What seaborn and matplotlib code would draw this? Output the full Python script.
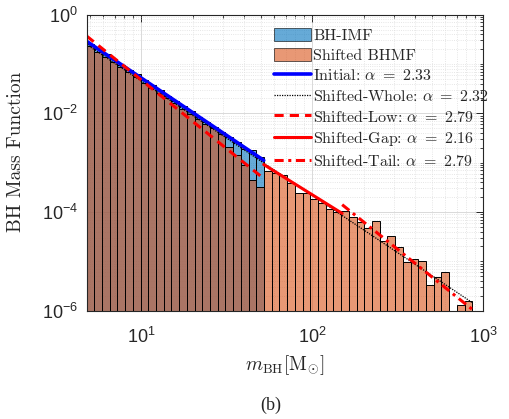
import numpy as np
import pandas as pd
import matplotlib
matplotlib.use("Agg")
import matplotlib.pyplot as plt
import seaborn as sns
from matplotlib.ticker import LogLocator, FixedLocator, NullFormatter
from matplotlib.patches import Patch
from matplotlib.lines import Line2D

# log-spaced mass bins (solar masses)
mass_min = 4.8
mass_max = 866.0
n_bins = 50

# mass function per bin: initial BH-IMF (first 23 bins) and shifted BHMF (all bins)
bh_imf = [0.252, 0.204, 0.157, 0.125, 0.0965, 0.0770, 0.0615, 0.0468, 0.0372, 0.0291,
          0.0229, 0.0181, 0.0140, 0.0111, 0.0086, 0.0068, 0.0054, 0.00425, 0.00327,
          0.00267, 0.00188, 0.00180, 0.00132]
shifted_bhmf = [0.228, 0.178, 0.140, 0.110, 0.0860, 0.0680, 0.0545, 0.0420, 0.0330, 0.0258,
                0.0203, 0.0160, 0.0125, 0.0098, 0.0077, 0.0060, 0.00505, 0.00376, 0.00211,
                0.00143, 0.000894, 0.000446, 0.000324,
                6.79e-4, 6.10e-4, 5.62e-4, 3.82e-4, 2.40e-4, 2.47e-4, 1.81e-4, 1.50e-4,
                1.14e-4, 1.02e-4, 1.05e-4, 7.8e-5, 6.4e-5, 4.7e-5, 6.6e-5, 2.6e-5, 3.3e-5,
                1.98e-5, 9.8e-6, 1.12e-5, 1.03e-5, 3.3e-6, 4.75e-6, 6.0e-6, 0.0, 1.29e-6,
                1.57e-6]

# power-law fits  f(m) = norm * m**(-alpha)  over [m_lo, m_hi]
fit_labels = ["Initial", "Shifted-Whole", "Shifted-Low", "Shifted-Gap", "Shifted-Tail"]
fit_alpha = [2.33, 2.32, 2.79, 2.16, 2.79]
fit_norm = [11.2, 9.5, 29.5, 4.7, 166.0]
fit_mlo = [4.8, 4.8, 4.8, 52.2, 150.0]
fit_mhi = [52.2, 866.0, 52.2, 150.0, 866.0]

# axis ticks
x_major = [10, 100, 1000]
y_major = [1e-6, 1e-4, 1e-2, 1]

fit_color = ["#0000ff", "black", "#ff0000", "#ff0000", "#ff0000"]
fit_style = ["-", (0, (1, 1)), (0, (3, 2)), "-", (0, (3, 1.5, 1, 1.5))]
fit_width = [2.6, 0.9, 2.2, 2.2, 2.2]

blue_face = (0.0, 0.447, 0.741)
orange_face = (0.85, 0.325, 0.098)

sns.set_style("white")
plt.rcParams.update({
    "font.family": ["Liberation Sans", "DejaVu Sans"],
    "mathtext.fontset": "cm",
    "xtick.direction": "in",
    "ytick.direction": "in",
    "xtick.top": True,
    "ytick.right": True,
    "axes.edgecolor": "#262626",
    "axes.linewidth": 0.8,
})

fig = plt.figure(figsize=(5.09, 4.19), dpi=100)
ax = fig.add_axes([0.170, 0.2585, 0.779, 0.7065])

log_edges = np.linspace(np.log10(mass_min), np.log10(mass_max), n_bins + 1)
centers = 10 ** (0.5 * (log_edges[:-1] + log_edges[1:]))

n_imf = len(bh_imf)
imf_df = pd.DataFrame({"mass": centers[:n_imf], "f": bh_imf})
shift_df = pd.DataFrame({"mass": centers, "f": shifted_bhmf})

sns.histplot(data=imf_df, x="mass", weights="f", bins=[float(v) for v in log_edges[:n_imf + 1]],
             log_scale=True, stat="count", color=blue_face, alpha=0.6, edgecolor="black",
             linewidth=0.7, ax=ax)
sns.histplot(data=shift_df, x="mass", weights="f", bins=[float(v) for v in log_edges],
             log_scale=True, stat="count", color=orange_face, alpha=0.6, edgecolor="black",
             linewidth=0.7, ax=ax)
ax.set_yscale("log")

for lab, a, A, lo, hi, c, ls, lw in zip(fit_labels, fit_alpha, fit_norm, fit_mlo,
                                         fit_mhi, fit_color, fit_style, fit_width):
    mm = np.array([lo, hi])
    sns.lineplot(x=mm, y=A * mm ** (-a), color=c, linestyle=ls, linewidth=lw, ax=ax)

ax.set_xlim(4.8, 1000)
ax.set_ylim(1e-6, 1)

ax.xaxis.set_major_locator(FixedLocator(x_major))
ax.xaxis.set_minor_locator(LogLocator(base=10, subs=np.arange(2, 10), numticks=20))
ax.xaxis.set_minor_formatter(NullFormatter())
ax.yaxis.set_major_locator(FixedLocator(y_major))
ax.yaxis.set_minor_locator(LogLocator(base=10, subs=np.arange(1, 10), numticks=20))
ax.yaxis.set_minor_formatter(NullFormatter())

ax.tick_params(which="major", length=5, width=0.7, color="#262626", labelsize=13)
ax.tick_params(axis="x", which="major", pad=12)
ax.tick_params(axis="y", which="major", pad=6)
ax.tick_params(which="minor", length=2.5, width=0.6, color="#262626")

ax.grid(which="major", color="#d9d9d9", linewidth=0.7, linestyle="-")
ax.grid(which="minor", color="#dedede", linewidth=0.6, linestyle=":")
ax.set_axisbelow(True)

ax.set_ylabel("BH Mass Function", fontfamily="cmr10", fontsize=14)
ax.yaxis.set_label_coords(-0.156, 0.538)
ax.set_xlabel(r"$m_{\mathrm{BH}}[\mathrm{M}_{\odot}]$", fontsize=14)
ax.xaxis.set_label_coords(0.50, -0.183)
ax.xaxis.label.set_va("center")

handles = [Patch(facecolor=blue_face, alpha=0.6, edgecolor="black", linewidth=0.7),
           Patch(facecolor=orange_face, alpha=0.6, edgecolor="black", linewidth=0.7)]
labels = ["BH-IMF", "Shifted BHMF"]
for lab, a, c, ls, lw in zip(fit_labels, fit_alpha, fit_color, fit_style, fit_width):
    handles.append(Line2D([0], [0], color=c, linestyle=ls, linewidth=lw))
    labels.append(lab + r": $\alpha\ =\ " + f"{a:.2f}" + "$")

ax.legend(handles, labels, loc="upper left", bbox_to_anchor=(266 / 509, 1 - 20 / 419),
          bbox_transform=fig.transFigure, frameon=False, borderpad=0,
          prop={"family": "cmr10", "size": 11.5}, handlelength=2.3,
          handletextpad=0.15, handleheight=0.9, labelspacing=0.3)

fig.text(271 / 509, 1 - 405 / 419, "(b)", family="Liberation Serif", fontsize=13,
         ha="center", va="center")

fig.savefig("out.png", dpi=100)
